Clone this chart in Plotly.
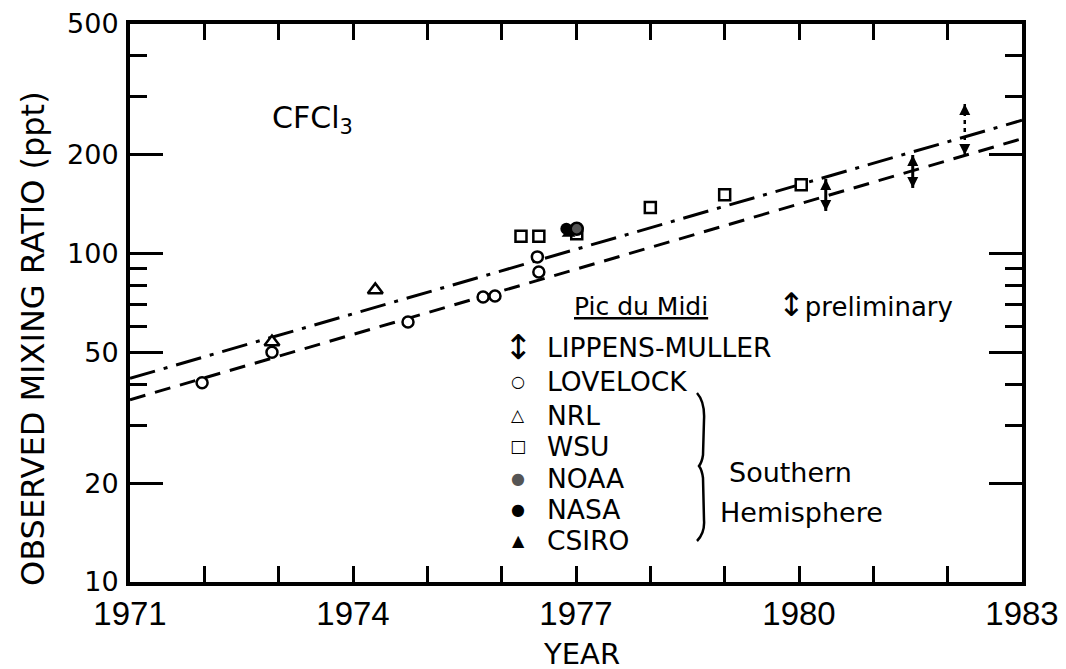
import plotly.graph_objects as go

# ---------------- data ----------------
fit_years = [1971, 1983]
fit_dashdot = [41.7, 254.6]
fit_dashed = [35.9, 223.7]

lovelock_x = [1971.97, 1972.91, 1974.74, 1975.75, 1975.91, 1976.48, 1976.50]
lovelock_y = [40.4, 50.1, 61.9, 73.8, 74.3, 97.7, 87.9]

nrl_x = [1972.91, 1974.30]
nrl_y = [53.8, 77.5]

wsu_x = [1976.26, 1976.50, 1977.01, 1978.00, 1979.00, 1980.03]
wsu_y = [113, 113, 115, 138, 151, 162]

noaa_x = [1977.01]
noaa_y = [119]

nasa_x = [1976.87]
nasa_y = [119]

csiro_x = [1976.90]
csiro_y = [115]

lm_x = [1980.36, 1981.53]
lm_hi = [168.7, 199.6]
lm_lo = [134.8, 158.4]

prelim_x = [1982.23]
prelim_hi = [285.5]
prelim_lo = [199.6]

year_ticks = [1971, 1974, 1977, 1980, 1983]
year_labels = ["1971", "1974", "1977", "1980", "1983"]
ratio_ticks = [10, 20, 50, 100, 200, 500]
ratio_labels = ["10", "20", "50", "100", "200", "500"]
ratio_minor = [30, 40, 60, 70, 80, 90, 300, 400]

legend_symbols = ["↕", "○", "△", "□", "●", "●", "▲"]
legend_names = ["LIPPENS-MULLER", "LOVELOCK", "NRL", "WSU", "NOAA", "NASA", "CSIRO"]

# ---------------- layout helpers ----------------
W, H = 1066, 669
ML, MR, MT, MB = 130, 44, 24, 87
PW, PH = W - ML - MR, H - MT - MB


def px(x):
    return (x - ML) / PW


def py(y):
    return (H - MB - y) / PH


FONT = "DejaVu Sans, Verdana, sans-serif"
NARROW = "Liberation Sans, Arial, sans-serif"

fig = go.Figure()

# fitted trend lines
fig.add_trace(go.Scatter(x=fit_years, y=fit_dashdot, mode="lines",
                         line=dict(color="black", width=3, dash="26px,9px,4px,9px"),
                         showlegend=False, hoverinfo="skip"))
fig.add_trace(go.Scatter(x=fit_years, y=fit_dashed, mode="lines",
                         line=dict(color="black", width=3, dash="16px,10px"),
                         showlegend=False, hoverinfo="skip"))


def arrows(xs, his, los):
    ax, ay, sym = [], [], []
    for x, hi, lo in zip(xs, his, los):
        ax += [x, x, None]
        ay += [hi, lo, None]
        sym += ["arrow-up", "arrow-down", "circle"]
    return ax, ay, sym


ax, ay, sym = arrows(lm_x, lm_hi, lm_lo)
fig.add_trace(go.Scatter(x=ax, y=ay, mode="lines+markers", name="LIPPENS-MULLER",
                         line=dict(color="black", width=3),
                         marker=dict(symbol=sym, size=11, color="black"),
                         showlegend=False))
ax, ay, sym = arrows(prelim_x, prelim_hi, prelim_lo)
fig.add_trace(go.Scatter(x=ax, y=ay, mode="lines+markers", name="preliminary",
                         line=dict(color="black", width=2.5, dash="4px,4px"),
                         marker=dict(symbol=sym, size=11, color="black"),
                         showlegend=False))

open_style = dict(color="white", line=dict(color="black", width=2.5))
fig.add_trace(go.Scatter(x=lovelock_x, y=lovelock_y, mode="markers", name="LOVELOCK",
                         marker=dict(symbol="circle", size=11, **open_style), showlegend=False))
fig.add_trace(go.Scatter(x=nrl_x, y=nrl_y, mode="markers", name="NRL",
                         marker=dict(symbol="triangle-up", size=13, **open_style), showlegend=False))
fig.add_trace(go.Scatter(x=wsu_x, y=wsu_y, mode="markers", name="WSU",
                         marker=dict(symbol="square", size=11, **open_style), showlegend=False))
fig.add_trace(go.Scatter(x=csiro_x, y=csiro_y, mode="markers", name="CSIRO",
                         marker=dict(symbol="triangle-up", size=12, color="black"), showlegend=False))
fig.add_trace(go.Scatter(x=nasa_x, y=nasa_y, mode="markers", name="NASA",
                         marker=dict(symbol="circle", size=12, color="black"), showlegend=False))
fig.add_trace(go.Scatter(x=noaa_x, y=noaa_y, mode="markers", name="NOAA",
                         marker=dict(symbol="circle", size=12, color="#555",
                                     line=dict(color="black", width=2.5)), showlegend=False))

annotations = []
# y-axis title (placed as in the reference, slightly below the axis centre)
annotations.append(dict(text="OBSERVED MIXING RATIO (ppt)", x=px(33), y=py(339),
                        xref="paper", yref="paper", xanchor="center", yanchor="middle",
                        textangle=-90, showarrow=False,
                        font=dict(family=FONT, size=32, color="black")))
# x-axis title
annotations.append(dict(text="YEAR", x=px(581), y=0, xref="paper", yref="paper",
                        xanchor="center", yanchor="bottom", yshift=-(MB + 3), showarrow=False,
                        borderpad=0, font=dict(family=FONT, size=29, color="black")))
# compound label
annotations.append(dict(text="CFCl<sub>3</sub>", x=px(270), y=py(120), xref="paper", yref="paper",
                        xanchor="left", yanchor="middle", showarrow=False,
                        font=dict(family=FONT, size=30, color="black")))
# legend header
annotations.append(dict(text="<u>Pic du Midi</u>", x=px(572), y=py(306), xref="paper", yref="paper",
                        xanchor="left", yanchor="middle", showarrow=False,
                        font=dict(family=FONT, size=25, color="black")))
annotations.append(dict(text="<span style='font-size:32px'>↕</span>preliminary",
                        x=px(776), y=py(305), xref="paper", yref="paper",
                        xanchor="left", yanchor="middle", showarrow=False,
                        font=dict(family=FONT, size=26, color="black")))
row_y = [347, 382, 415, 446, 478, 509, 540]
sym_sizes = [34, 16, 17, 17, 16, 16, 16]
sym_colors = ["black", "black", "black", "black", "#555", "black", "black"]
for s, n, ry, ss, sc in zip(legend_symbols, legend_names, row_y, sym_sizes, sym_colors):
    annotations.append(dict(text=s, x=px(518), y=py(ry), xref="paper", yref="paper",
                            xanchor="center", yanchor="middle", showarrow=False,
                            font=dict(family=FONT, size=ss, color=sc)))
    annotations.append(dict(text=n, x=px(545), y=py(ry), xref="paper", yref="paper",
                            xanchor="left", yanchor="middle", showarrow=False,
                            font=dict(family=FONT, size=26.5, color="black")))
annotations.append(dict(text="Southern", x=px(790), y=py(472), xref="paper", yref="paper",
                        xanchor="center", yanchor="middle", showarrow=False,
                        font=dict(family=FONT, size=27, color="black")))
annotations.append(dict(text="Hemisphere", x=px(801), y=py(512), xref="paper", yref="paper",
                        xanchor="center", yanchor="middle", showarrow=False,
                        font=dict(family=FONT, size=27, color="black")))

# brace grouping the Southern Hemisphere entries
bx = [697, 705, 704, 703, 702, 699, 702, 703, 704, 705, 697]
by = [393, 402, 420, 455, 462, 466, 470, 478, 520, 533, 541]
path = (f"M {px(bx[0])},{py(by[0])} Q {px(bx[1])},{py(by[1])} {px(bx[2])},{py(by[2])} "
        f"L {px(bx[3])},{py(by[3])} Q {px(bx[4])},{py(by[4])} {px(bx[5])},{py(by[5])} "
        f"Q {px(bx[6])},{py(by[6])} {px(bx[7])},{py(by[7])} "
        f"L {px(bx[8])},{py(by[8])} Q {px(bx[9])},{py(by[9])} {px(bx[10])},{py(by[10])}")
shapes = [dict(type="path", xref="paper", yref="paper", path=path,
               line=dict(color="black", width=2.5))]

fig.update_layout(
    width=W, height=H,
    margin=dict(l=ML, r=MR, t=MT, b=MB, pad=0, autoexpand=False),
    paper_bgcolor="white", plot_bgcolor="white",
    showlegend=False,
    annotations=annotations,
    shapes=shapes,
    xaxis=dict(
        range=[1971, 1983], tickmode="array", tickvals=year_ticks, ticktext=year_labels,
        ticks="inside", ticklen=16, tickwidth=3, tickcolor="black",
        showline=True, linewidth=4, linecolor="black", mirror="ticks",
        showgrid=False, zeroline=False, ticklabelstandoff=-1, automargin=False,
        tickfont=dict(family=NARROW, size=33, color="black"),
        minor=dict(tickmode="linear", tick0=1971, dtick=1, ticks="inside", ticklen=16,
                   tickwidth=3, tickcolor="black", showgrid=False),
    ),
    yaxis=dict(
        type="log", range=[1, 2.69897], tickmode="array", tickvals=ratio_ticks, ticktext=ratio_labels,
        ticks="inside", ticklen=33, tickwidth=3, tickcolor="black",
        showline=True, linewidth=4, linecolor="black", mirror="ticks",
        showgrid=False, zeroline=False, ticklabelstandoff=2, automargin=False,
        tickfont=dict(family=FONT, size=27, color="black"),
        minor=dict(tickmode="array", tickvals=ratio_minor, ticks="inside", ticklen=17,
                   tickwidth=3, tickcolor="black", showgrid=False),
    ),
)

fig.write_html("out.html")
